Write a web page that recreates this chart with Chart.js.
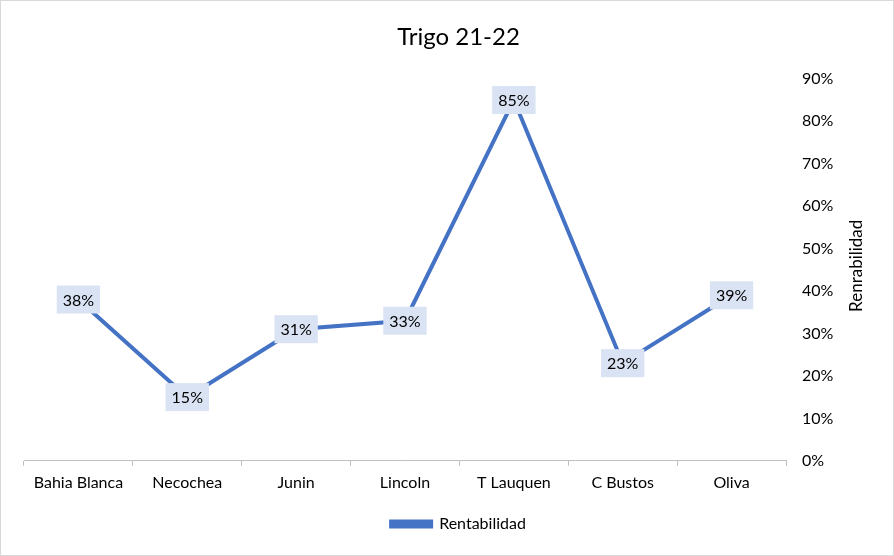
<!DOCTYPE html>
<html>
<head>
<meta charset="utf-8">
<script src="https://cdn.jsdelivr.net/npm/chart.js@4/dist/chart.umd.min.js"></script>
<style>
  html, body { margin: 0; padding: 0; background: #fff; }
  #wrap { position: relative; width: 894px; height: 556px; box-sizing: border-box; border: 1px solid #d9d9d9; }
</style>
</head>
<body>
<div id="wrap"><canvas id="chart"></canvas></div>
<script>
const categories = ['Bahia Blanca', 'Necochea', 'Junin', 'Lincoln', 'T Lauquen', 'C Bustos', 'Oliva'];
const rentabilidad = [38, 15, 31, 33, 85, 23, 39];
const yTicks = [0, 10, 20, 30, 40, 50, 60, 70, 80, 90];
const yTitle = 'Renrabilidad';

const FONT = 'Lato, "Open Sans", sans-serif';

// etiquetas de datos con caja azul clara + título del eje (girado hacia arriba)
const dataLabels = {
  id: 'dataLabels',
  afterDatasetsDraw(chart) {
    const ctx = chart.ctx;
    const meta = chart.getDatasetMeta(0);
    ctx.save();
    ctx.font = '16px ' + FONT;
    ctx.textAlign = 'center';
    ctx.textBaseline = 'middle';
    meta.data.forEach((pt, i) => {
      const txt = rentabilidad[i] + '%';
      const w = ctx.measureText(txt).width + 12;
      const h = 28;
      ctx.fillStyle = '#dae3f3';
      ctx.fillRect(pt.x - w / 2, pt.y - h / 2, w, h);
      ctx.fillStyle = '#000';
      ctx.fillText(txt, pt.x, pt.y + 1);
    });
    // título eje Y
    const area = chart.chartArea;
    ctx.translate(chart.width - 36, (area.top + area.bottom) / 2 - 4);
    ctx.rotate(-Math.PI / 2);
    ctx.font = '17px ' + FONT;
    ctx.fillText(yTitle, 0, 0);
    ctx.restore();
  }
};

new Chart(document.getElementById('chart'), {
  type: 'line',
  data: {
    labels: categories,
    datasets: [{
      label: 'Rentabilidad',
      data: rentabilidad,
      borderColor: '#4472c4',
      backgroundColor: '#4472c4',
      borderWidth: 4,
      pointRadius: 0,
      tension: 0
    }]
  },
  options: {
    responsive: true,
    maintainAspectRatio: false,
    animation: false,
    layout: { padding: { left: 23, right: 0, top: 12, bottom: 13 } },
    plugins: {
      title: {
        display: true,
        text: 'Trigo 21-22',
        color: '#000',
        font: { family: FONT, size: 24, weight: 'normal' },
        padding: { top: 10, bottom: 27 }
      },
      legend: {
        position: 'bottom',
        labels: {
          color: '#000',
          font: { family: FONT, size: 16 },
          boxWidth: 40,
          boxHeight: 5,
          padding: 17
        }
      },
      tooltip: { enabled: false }
    },
    scales: {
      x: {
        offset: true,
        grid: { offset: true, drawOnChartArea: false, tickLength: 5, color: '#bfbfbf' },
        border: { color: '#bfbfbf' },
        ticks: { color: '#000', font: { family: FONT, size: 16 }, padding: 7, maxRotation: 0 }
      },
      y: {
        position: 'right',
        min: 0,
        max: 90,
        afterBuildTicks: (axis) => { axis.ticks = yTicks.map(v => ({ value: v })); },
        afterFit: (axis) => { axis.width = 107; },
        grid: { display: false },
        border: { display: false },
        ticks: { color: '#000', font: { family: FONT, size: 16 }, padding: 8, callback: v => v + '%' }
      }
    }
  },
  plugins: [dataLabels]
});
</script>
</body>
</html>
